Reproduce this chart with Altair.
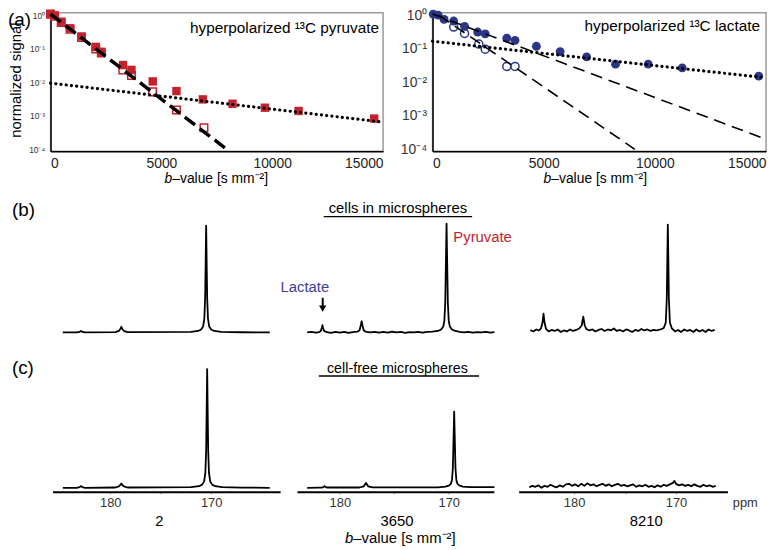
import altair as alt
import pandas as pd

FONT = "Liberation Sans"
RED = "#c4232d"
NAVY = "#2b3786"
LACT = "#3d3d9e"

# ---------------- (a) left panel: hyperpolarized 13C pyruvate ----------------
pyr_fill_b = [0, 180, 480, 880, 1400, 2040, 2290, 3270, 3650, 4610, 5680, 6870, 8210, 9670, 11190, 14600]
pyr_fill_s = [1.12, 1.0, 0.65, 0.41, 0.236, 0.115, 0.082, 0.033, 0.0236, 0.0107, 0.0055, 0.0031,
              0.0023, 0.00175, 0.0014, 0.00083]
pyr_open_b = [0, 180, 480, 880, 1400, 2040, 2290, 3260, 3650, 4600, 5680, 6920]
pyr_open_s = [1.08, 0.95, 0.62, 0.39, 0.22, 0.1, 0.075, 0.0236, 0.016, 0.0052, 0.0015, 0.00044]
pyr_fast_b = [0, 7950]
pyr_fast_s = [1.1, 0.0001]
pyr_slow_b = [0, 15000]
pyr_slow_s = [0.0095, 0.00065]

# ---------------- (a) right panel: hyperpolarized 13C lactate ----------------
lac_fill_b = [30, 250, 520, 950, 1440, 2030, 2370, 3340, 3710, 4670, 5740, 6930, 8230, 9700, 11230, 14670]
lac_fill_s = [1.1, 1.02, 0.76, 0.68, 0.47, 0.32, 0.28, 0.21, 0.18, 0.12, 0.083, 0.058, 0.035, 0.035,
              0.027, 0.0154]
lac_open_b = [950, 1440, 2080, 2370, 3340, 3710]
lac_open_s = [0.45, 0.29, 0.14, 0.098, 0.030, 0.030]
lac_fast_b = [300, 9100]
lac_fast_s = [1.0, 0.0001]
lac_mid_b = [0, 15000]
lac_mid_s = [1.1, 0.0002]
lac_slow_b = [0, 15000]
lac_slow_s = [0.17, 0.0137]

decade_ticks = [0.0001, 0.001, 0.01, 0.1, 1]
b_ticks = [0, 5000, 10000, 15000]
ppm_ticks = [180, 175, 170]

# ---------------- spectra (ppm, intensity) ----------------
b2_ppm = [184.7, 183.3, 183.05, 182.95, 182.9, 182.85, 182.75, 182.5, 179.5, 179.15, 179.0, 178.9,
          178.8, 178.65, 178.3, 172.0, 171.3, 171.0, 170.8, 170.68, 170.6, 170.55, 170.5, 170.45,
          170.4, 170.32, 170.2, 170.0, 169.7, 169.0, 167.0, 164.2]
b2_int = [0, 0, 0.5, 1.2, 1.5, 1.2, 0.5, 0, 0.3, 1.5, 3.5, 5.7, 3.5, 1.5, 0.3, 0.6, 1.5, 3, 6, 14,
          35, 70, 108, 70, 35, 14, 6, 3, 1.5, 0.6, 0.2, 0]

c2_ppm = [184.7, 183.3, 183.05, 182.95, 182.9, 182.85, 182.75, 182.5, 179.5, 179.15, 179.0, 178.9,
          178.8, 178.65, 178.3, 172.0, 171.2, 170.9, 170.7, 170.58, 170.5, 170.45, 170.4, 170.35,
          170.3, 170.22, 170.1, 169.9, 169.6, 168.9, 167.0, 164.2]
c2_int = [0, 0, 0.6, 1.4, 1.7, 1.4, 0.6, 0, 0.3, 1.4, 3.0, 4.3, 3.0, 1.4, 0.3, 0.7, 1.6, 3.2, 6.5,
          15, 38, 78, 120, 78, 38, 15, 6.5, 3.2, 1.6, 0.7, 0.2, 0]

b3650_ppm = [183.0, 182.6, 182.2, 181.9, 181.75, 181.65, 181.6, 181.55, 181.45, 181.2, 180.8, 180.4,
             180.0, 179.6, 179.2, 178.8, 178.4, 178.2, 178.08, 178.0, 177.92, 177.8, 177.6, 177.2,
             176.8, 176.4, 176.0, 175.6, 175.2, 174.8, 174.4, 174.0, 173.6, 173.2, 172.8, 172.4,
             172.0, 171.5, 171.0, 170.7, 170.5, 170.4, 170.32, 170.26, 170.2, 170.14, 170.08, 170.0,
             169.9, 169.7, 169.4, 169.0, 168.6, 168.2, 167.8, 167.4, 167.0, 166.6, 166.2, 165.8]
b3650_int = [0, 0.5, -0.3, 0.4, 1.5, 5, 7.3, 5, 1.5, 0.3, -0.4, 0.6, -0.2, 0.5, -0.5, 0.4, 0.8, 2,
             7, 11.3, 7, 2, 0.6, 0, 0.6, -0.3, 0.5, -0.2, 0.7, 0, 0.5, -0.4, 0.4, 0, 0.6, -0.3,
             0.5, 0.8, 1.5, 3, 6, 12, 30, 70, 110, 70, 30, 12, 6, 3, 1.5, 0.6, 0, 0.5, -0.3, 0.4,
             0, 0.5, -0.2, 0.3]

c3650_ppm = [183.0, 182.0, 181.6, 181.45, 181.4, 181.35, 181.2, 178.2, 177.8, 177.68, 177.6, 177.52,
             177.4, 177.0, 171.0, 170.3, 170.0, 169.8, 169.7, 169.62, 169.56, 169.5, 169.44,
             169.38, 169.3, 169.2, 169.0, 168.7, 168.0, 167.5, 166.5, 165.8]
c3650_int = [0, 0.2, 0.3, 1.2, 1.6, 1.2, 0.3, 0.3, 1.5, 3.5, 5, 3.5, 1.5, 0.4, 0.5, 1.2, 2.2, 4, 8,
             20, 48, 77, 48, 20, 8, 4, 2.2, 1.2, 0.6, 0.8, 0.6, 0.8]

b8210_ppm = [184.3, 184.0, 183.7, 183.45, 183.25, 183.1, 183.0, 182.9, 182.75, 182.5, 182.2, 181.9,
             181.6, 181.3, 181.0, 180.7, 180.4, 180.1, 179.8, 179.5, 179.25, 179.1, 178.95, 178.8,
             178.5, 178.2, 177.9, 177.6, 177.3, 177.0, 176.7, 176.4, 176.1, 175.8, 175.5, 175.2,
             174.9, 174.6, 174.3, 174.0, 173.7, 173.4, 173.1, 172.8, 172.5, 172.2, 171.9, 171.5,
             171.2, 171.0, 170.9, 170.85, 170.8, 170.75, 170.7, 170.6, 170.4, 170.1, 169.8, 169.5,
             169.2, 168.9, 168.6, 168.3, 168.0, 167.7, 167.4, 167.1, 166.8, 166.5, 166.2]
b8210_int = [2.5, 1.0, 3.0, 2.0, 4.0, 10, 19, 10, 3.5, 1.0, 2.5, 1.5, 3.0, 0.5, 2.0, 1.0, 3.0, 1.5,
             2.5, 4.0, 7, 16, 7, 3.5, 2.0, 3.0, 1.0, 2.5, 3.5, 1.5, 3.0, 2.0, 4.0, 1.5, 2.5, 1.0,
             3.0, 2.0, 0.5, 2.5, 1.5, 3.5, 2.0, 3.0, 1.5, 2.5, 2.0, 3.0, 4.5, 10, 35, 75, 109, 75,
             35, 10, 4.0, 1.0, 2.5, 0.5, 3.0, 1.5, 2.5, 0.5, 3.0, 1.0, 2.5, 0.5, 3.0, 1.5, 2.5]

c8210_ppm = [184.4, 184.1, 183.8, 183.5, 183.2, 182.9, 182.6, 182.3, 182.0, 181.7, 181.4, 181.1,
             180.8, 180.5, 180.2, 179.9, 179.6, 179.3, 179.0, 178.7, 178.4, 178.1, 177.8, 177.5,
             177.2, 176.9, 176.6, 176.3, 176.0, 175.7, 175.4, 175.1, 174.8, 174.5, 174.2, 173.9,
             173.6, 173.3, 173.0, 172.7, 172.4, 172.1, 171.8, 171.5, 171.2, 170.9, 170.6, 170.3,
             170.15, 170.0, 169.7, 169.4, 169.1, 168.8, 168.5, 168.2, 167.9, 167.6, 167.3, 167.0,
             166.7, 166.4, 166.1]
c8210_int = [0.5, 2.0, 1.0, 2.5, 0.0, 2.0, 1.0, 3.0, 1.5, 0.5, 2.5, 1.0, 3.5, 4.0, 2.0, 3.5, 1.5,
             4.0, 2.0, 4.5, 2.5, 3.5, 1.5, 3.0, 4.0, 2.0, 3.5, 1.5, 3.0, 4.0, 2.0, 3.0, 1.5, 2.5,
             3.5, 1.0, 2.5, 1.5, 3.0, 1.0, 2.0, 0.5, 2.5, 1.0, 3.0, 2.0, 3.5, 5.0, 7.0, 4.0, 2.5,
             3.5, 2.0, 3.0, 1.5, 3.5, 2.0, 1.0, 3.0, 1.5, 2.5, 1.0, 2.0]


# ---------------- helpers ----------------
def txt(s, x, y, size, color="black", align="left", baseline="middle", italic=False, angle=0):
    kw = dict(align=align, baseline=baseline, fontSize=size, color=color, font=FONT)
    if italic:
        kw["fontStyle"] = "italic"
    if angle:
        kw["angle"] = angle
    return alt.Chart(pd.DataFrame({"t": [s]})).mark_text(**kw).encode(
        x=alt.value(x), y=alt.value(y), text="t:N")


def hrule(x1, x2, y, w=1.3):
    return alt.Chart(pd.DataFrame({"a": [0]})).mark_rule(color="black", strokeWidth=w).encode(
        x=alt.value(x1), x2=alt.value(x2), y=alt.value(y))


LABEL_EXPR = ("datum.value > 0.5 ? '10⁰' : datum.value > 0.05 ? '10⁻¹' : "
              "datum.value > 0.005 ? '10⁻²' : datum.value > 0.0005 ? '10⁻³' : '10⁻⁴'")

TOP_H = 140


def top_panel(fill_b, fill_s, open_b, open_s, lines, color, shape, fsize, osize,
              ylab_size, title, title_x, title_y, split_x, width, extra):
    xs = alt.Scale(domain=[0, 15000], nice=False, zero=False)
    ys = alt.Scale(type="log", domain=[8.7e-5, 1.2], nice=False)
    xax = alt.Axis(values=b_ticks, format="d", title=None, grid=False, labelFontSize=14,
                   labelFlush=True, labelPadding=5, ticks=False, domainColor="black",
                   domainWidth=1.5, labelColor="#222")
    yax = alt.Axis(values=decade_ticks, labelExpr=LABEL_EXPR, title=None, grid=False,
                   labelFontSize=ylab_size, labelPadding=6, ticks=False, domainColor="black",
                   domainWidth=1.5, labelColor="#333")
    X = alt.X("b:Q", scale=xs, axis=xax)
    Y = alt.Y("s:Q", scale=ys, axis=yax)
    layers = []
    layers.append(alt.Chart(pd.DataFrame({"b": open_b, "s": open_s})).mark_point(
        shape=shape, filled=True, fill="white", stroke=color, strokeWidth=1.5, size=osize,
        opacity=1).encode(x=X, y=Y))
    layers.append(alt.Chart(pd.DataFrame({"b": fill_b, "s": fill_s})).mark_point(
        shape=shape, filled=True, color=color, size=fsize, opacity=1).encode(x=X, y=Y))
    for (lb, ls, sw, dash, cap) in lines:
        layers.append(alt.Chart(pd.DataFrame({"b": lb, "s": ls})).mark_line(
            color="black", strokeWidth=sw, strokeDash=dash, strokeCap=cap).encode(x=X, y=Y))
    layers.append(txt(title, title_x, title_y, 15.5, align="right"))
    layers.append(txt("b", split_x, 168, 14, align="right", italic=True))
    layers.append(txt("–value [s mm⁻²]", split_x, 168, 14, align="left"))
    layers.extend(extra)
    return alt.layer(*layers).properties(
        width=width, height=TOP_H,
        view=alt.ViewBackground(stroke="#9a9a9a", strokeWidth=1.5))


left = top_panel(
    pyr_fill_b, pyr_fill_s, pyr_open_b, pyr_open_s,
    [(pyr_fast_b, pyr_fast_s, 3.5, [13, 6], "butt"),
     (pyr_slow_b, pyr_slow_s, 3.2, [0.1, 5.2], "round")],
    RED, "square", 72, 58, 8.5, "hyperpolarized ¹³C pyruvate", 332, 15, 123, 336,
    [txt("(a)", -43, -2, 19, baseline="top"),
     txt("normalized signal", -35, 68, 15, align="center", angle=270)])

right = top_panel(
    lac_fill_b, lac_fill_s, lac_open_b, lac_open_s,
    [(lac_fast_b, lac_fast_s, 1.6, [12, 7], "butt"),
     (lac_mid_b, lac_mid_s, 1.6, [12, 7], "butt"),
     (lac_slow_b, lac_slow_s, 3.2, [0.1, 5.2], "round")],
    NAVY, "circle", 80, 66, 14, "hyperpolarized ¹³C lactate", 331, 13, 120, 337, [])

row1 = alt.hconcat(left, right, spacing=50, bounds="flush")

# column geometry for spectra rows: (ppm domain, pixel range, panel width)
COLS = [([163.17, 185.72], [232, 2], 240),
        ([165.85, 183.94], [208, 9], 220),
        ([164.95, 185.44], [224, 13], 234)]


def spec(ppm, inten, col, ydom, axis):
    dom, rng, _w = COLS[col]
    X = alt.X("ppm:Q", scale=alt.Scale(domain=dom, range=rng, nice=False, zero=False), axis=axis)
    Y = alt.Y("I:Q", scale=alt.Scale(domain=ydom, nice=False, zero=False), axis=None)
    return alt.Chart(pd.DataFrame({"ppm": ppm, "I": inten})).mark_line(
        color="black", strokeWidth=1.8, strokeJoin="round").encode(x=X, y=Y)


YB = [-8, 139]
H2 = 147
YC = [-4, 140]
H3 = 144

ppm_axis = alt.Axis(values=ppm_ticks, labelExpr="datum.value == 175 ? '' : datum.label",
                    title=None, grid=False, domainColor="black", domainWidth=2,
                    tickColor="#888", tickSize=2, labelFontSize=13, labelColor="#333",
                    labelPadding=3)

arrow_stem = alt.Chart(pd.DataFrame({"a": [0]})).mark_rule(color="black", strokeWidth=2).encode(
    x=alt.value(35), y=alt.value(104), y2=alt.value(113))
arrow_head = alt.Chart(pd.DataFrame({"a": [0]})).mark_point(
    shape="triangle-down", filled=True, color="black", size=55, opacity=1).encode(
    x=alt.value(35), y=alt.value(115))

b1 = alt.layer(spec(b2_ppm, b2_int, 0, YB, None),
               txt("(b)", -39, 15, 19)).properties(width=COLS[0][2], height=H2)
b2 = alt.layer(spec(b3650_ppm, b3650_int, 1, YB, None),
               txt("cells in microspheres", 111, 13, 15, align="center"),
               hrule(36, 186, 22),
               txt("Pyruvate", 167, 43, 15, color=RED),
               txt("Lactate", 17, 93, 15, color=LACT, align="center"),
               arrow_stem, arrow_head).properties(width=COLS[1][2], height=H2)
b3 = alt.layer(spec(b8210_ppm, b8210_int, 2, YB, None)).properties(width=COLS[2][2], height=H2)
row2 = alt.hconcat(b1, b2, b3, spacing=0, bounds="flush")

c1 = alt.layer(spec(c2_ppm, c2_int, 0, YC, ppm_axis),
               txt("(c)", -39, 19, 19),
               txt("2", 110, 174, 15, align="center")).properties(width=COLS[0][2], height=H3)
c2 = alt.layer(spec(c3650_ppm, c3650_int, 1, YC, ppm_axis),
               txt("cell-free microspheres", 110.5, 20, 14.5, align="center"),
               hrule(31, 193, 27),
               txt("3650", 110, 174, 15, align="center"),
               txt("b", 66, 191, 15, align="right", italic=True),
               txt("–value [s mm⁻²]", 66, 191, 15, align="left")).properties(
    width=COLS[1][2], height=H3)
c3 = alt.layer(spec(c8210_ppm, c8210_int, 2, YC, ppm_axis),
               txt("8210", 142, 174, 15, align="center"),
               txt("ppm", 242, 155, 13, color="#333", align="center")).properties(
    width=COLS[2][2], height=H3)
row3 = alt.hconcat(c1, c2, c3, spacing=0, bounds="flush")

chart = alt.vconcat(
    row1, row2, row3, spacing=7,
    autosize=alt.AutoSizeParams(type="none"),
    padding={"left": 43, "top": 2, "right": 727, "bottom": 540},
).configure(font=FONT).configure_view(stroke="transparent")

chart.save("out.html", embed_options={"renderer": "svg", "actions": False})
